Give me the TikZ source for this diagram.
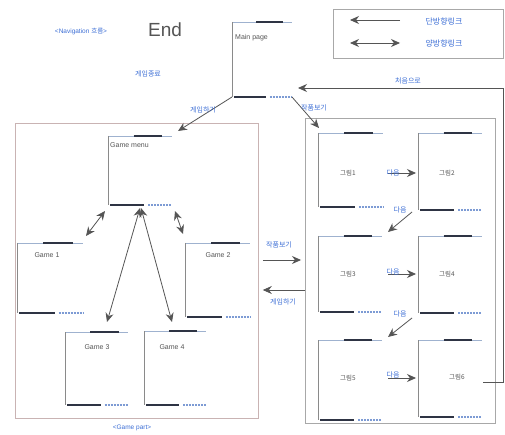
\documentclass[tikz,border=0pt]{standalone}
\usepackage{fontspec}
\setmainfont{Liberation Sans}
\newfontfamily\kr{Noto Sans CJK KR}
\usetikzlibrary{arrows.meta,calc}
\definecolor{linegray}{HTML}{555555}
\definecolor{bardark}{HTML}{2E3444}
\definecolor{bluetxt}{HTML}{3D6FD6}
\definecolor{bluebarc}{HTML}{7D9BD4}
\definecolor{toplinec}{HTML}{9FB2CF}
\definecolor{sidec}{HTML}{8A8A8A}
\definecolor{boxc}{HTML}{A8A8A8}
\definecolor{gboxc}{HTML}{C9B3B3}
\definecolor{txtgray}{HTML}{555555}
\tikzset{
  cardnode/.style={inner sep=0pt,outer sep=0pt,draw=none},
  topline/.style={draw=toplinec,line width=0.6pt},
  sideline/.style={draw=sidec,line width=0.6pt},
  darkbar/.style={draw=bardark,line width=2.6pt},
  bluebar/.style={draw=bluebarc,line width=1.4pt,dash pattern=on 2pt off 1pt},
  cardtxt/.style={font=\fontsize{7}{8}\selectfont,text=txtgray,inner sep=1pt},
  galtxt/.style={font=\kr\fontsize{6.5}{7}\selectfont,text=txtgray,inner sep=1pt},
  lbl/.style={font=\kr\fontsize{7}{8}\selectfont,text=bluetxt,inner sep=1pt},
  arr/.style={draw=linegray,line width=0.8pt,-{Stealth[length=9pt,width=8pt]}},
  darr/.style={draw=linegray,line width=0.8pt,{Stealth[length=9pt,width=8pt]}-{Stealth[length=9pt,width=8pt]}},
}
\newcommand\card[5]{%
  \node[cardnode,minimum width=#4pt,minimum height=#5pt,anchor=north west] (#1) at (#2,#3) {};
  \draw[topline] (#1.north west) -- (#1.north east);
  \draw[darkbar] ($(#1.north west)!0.40!(#1.north east)$) -- ($(#1.north west)!0.85!(#1.north east)$);
  \draw[sideline] (#1.north west) -- (#1.south west);
  \draw[darkbar] ($(#1.south west)!0.03!(#1.south east)$) -- ($(#1.south west)!0.57!(#1.south east)$);
  \draw[bluebar] ($(#1.south west)!0.63!(#1.south east)$) -- (#1.south east);
}
\begin{document}
\begin{tikzpicture}[x=1pt,y=-1pt]
\useasboundingbox[fill=white] (0,0) rectangle (505,435);

% legend
\node[draw=boxc,line width=0.8pt,minimum width=170pt,minimum height=49pt,anchor=north west,inner sep=0pt] (legend) at (333,9) {};
\coordinate (l1a) at (350,20); \coordinate (l1b) at (400,20);
\coordinate (l2a) at (350,43); \coordinate (l2b) at (400,43);
\draw[arr] (l1b) -- (l1a);
\draw[darr] (l2a) -- (l2b);
\node[lbl,font=\kr\fontsize{8}{9}\selectfont] (leg1) at (444,21) {단방향링크};
\node[lbl,font=\kr\fontsize{8}{9}\selectfont] (leg2) at (444,43) {양방향링크};

% titles
\node[lbl,font=\fontsize{6.5}{7}\selectfont] (nav) at (81,32) {<Navigation {\kr 흐름}>};
\node[font=\fontsize{19}{20}\selectfont,text=txtgray] (endt) at (165,30) {End};
\node[lbl] (gend) at (148,74) {게임종료};

% boxes
\node[draw=gboxc,line width=0.8pt,minimum width=243pt,minimum height=295pt,anchor=north west,inner sep=0pt] (gbox) at (15,123) {};
\node[draw=boxc,line width=0.8pt,minimum width=190pt,minimum height=305pt,anchor=north west,inner sep=0pt] (pbox) at (305,118) {};
\node[lbl,font=\fontsize{6.5}{7}\selectfont] (gpart) at (132,428) {<Game part>};

% main page
\card{mp}{232}{22}{60}{75}
\node[cardtxt,anchor=west] (mpt) at (234,38) {Main page};

% game cards
\card{gm}{108}{136}{64}{69}
\node[cardtxt,anchor=west] (gmt) at (109,145) {Game menu};
\card{ga}{17}{243}{66}{70}
\node[cardtxt] (gat) at (47,255) {Game 1};
\card{gb}{185}{243}{65}{74}
\node[cardtxt] (gbt) at (218,255) {Game 2};
\card{gc}{65}{332}{63}{73}
\node[cardtxt] (gct) at (97,347) {Game 3};
\card{gd}{144}{331}{62}{74}
\node[cardtxt] (gdt) at (172,347) {Game 4};

% gallery cards
\card{pa}{318}{133}{65}{74}
\node[galtxt] (pat) at (348,173) {그림1};
\card{pb}{418}{133}{64}{77}
\node[galtxt] (pbt) at (447,173) {그림2};
\card{pc}{318}{236}{64}{76}
\node[galtxt] (pct) at (348,274) {그림3};
\card{pd}{418}{236}{64}{77}
\node[galtxt] (pdt) at (447,274) {그림4};
\card{pe}{318}{340}{64}{80}
\node[galtxt] (pet) at (348,378) {그림5};
\card{pf}{418}{340}{64}{77}
\node[galtxt] (pft) at (457,377) {그림6};

% main page -> game menu / gallery
\draw[arr] (mp.south west) -- ($(gm.north east)+(6,-5)$);
\node[lbl] (lplay) at (203,110) {게임하기};
\draw[arr] (mp.south east) -- ($(pa.north west)+(1,-5)$);
\node[lbl] (lview) at (314,108) {작품보기};

% back to start
\coordinate (rtop) at (503,88);
\coordinate (p6out) at ($(pf.north east)+(1,42)$);
\coordinate (mpin) at ($(mp.east |- rtop)+(6,0)$);
\draw[arr] (p6out) -- (p6out -| rtop) -- (rtop) -- (mpin);
\node[lbl] (lhome) at (408,81) {처음으로};

% game menu <-> games
\draw[darr] ($(gm.south west)+(-3,6)$) -- ($(ga.north east)+(3,-7)$);
\draw[darr] ($(gm.south east)+(3,6)$) -- ($(gb.north west)+(-2,-9)$);
\draw[darr] ($(gm.south west)+(32,3)$) -- ($(gc.north west)+(42,-10)$);
\draw[darr] ($(gm.south west)+(33,3)$) -- ($(gd.north west)+(28,-9)$);

% game part <-> gallery
\draw[arr] ($(gbox.north east)+(4,137)$) -- ($(pbox.north west)+(-4,142)$);
\node[lbl] (lview2) at (279,245) {작품보기};
\draw[arr] ($(pbox.north west)+(0,172)$) -- ($(gbox.north east)+(4,167)$);
\node[lbl] (lplay2) at (283,302) {게임하기};

% gallery next arrows
\draw[arr] ($(pa.north east)+(5,40)$) -- ($(pb.north west)+(-2,40)$);
\node[lbl] (n1) at (393,173) {다음};
\draw[arr] ($(pb.south west)+(-6,2)$) -- ($(pc.north east)+(6,-4)$);
\node[lbl] (n2) at (400,210) {다음};
\draw[arr] ($(pc.north east)+(6,38)$) -- ($(pd.north west)+(-2,38)$);
\node[lbl] (n3) at (393,272) {다음};
\draw[arr] ($(pd.south west)+(-6,5)$) -- ($(pe.north east)+(6,-3)$);
\node[lbl] (n4) at (400,314) {다음};
\draw[arr] ($(pe.north east)+(6,38)$) -- ($(pf.north west)+(-2,38)$);
\node[lbl] (n5) at (393,375) {다음};
\end{tikzpicture}
\end{document}
